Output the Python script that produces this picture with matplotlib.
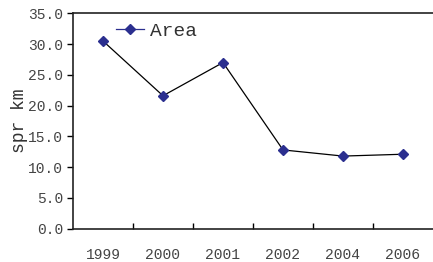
import matplotlib
matplotlib.use("Agg")
import matplotlib.pyplot as plt

years = ["1999", "2000", "2001", "2002", "2004", "2006"]
area = [30.5, 21.6, 27.0, 12.8, 11.8, 12.1]
yticks = [0, 5, 10, 15, 20, 25, 30, 35]

plt.rcParams['font.family'] = ['Liberation Mono', 'DejaVu Sans Mono']

fig = plt.figure(figsize=(4.33, 2.62), dpi=100)
ax = fig.add_axes([73/433, 1-228.7/262, 1-73/433, (228.7-13.3)/262])

x = list(range(len(years)))
ax.plot(x, area, color='black', lw=0.9, marker='D', markersize=5.5,
        markerfacecolor='#2b2f8f', markeredgecolor='#2b2f8f', label='Area')

ax.set_xlim(-0.5, len(years)-0.5)
ax.set_ylim(0, 35)
ax.set_yticks(yticks)
ax.set_yticklabels([f"{v:.1f}" for v in yticks], fontsize=10.5, color='#444444')
ax.set_xticks([i+0.5 for i in range(len(years)-1)])
ax.set_xticklabels([])
ax.set_xticks(x, minor=True)
ax.set_xticklabels(years, minor=True, fontsize=10.5, color='#444444')
ax.tick_params(axis='x', which='major', direction='in', length=4, width=1)
ax.tick_params(axis='x', which='minor', length=0, pad=14)
ax.tick_params(axis='y', direction='out', length=4, width=1, pad=3)

ax.spines['right'].set_visible(False)
for s in ['left', 'bottom', 'top']:
    ax.spines[s].set_linewidth(1.2)
    ax.spines[s].set_color('#222222')

ax.set_ylabel('spr km', fontsize=13, color='#333333', labelpad=0)

leg = ax.legend(loc='upper left', bbox_to_anchor=(0.086, 1.014), frameon=False,
                fontsize=14, handlelength=1.45, handletextpad=0.3,
                borderaxespad=0.2)
for t in leg.get_texts():
    t.set_color('#333333')
leg.get_lines()[0].set_color('#2b2f8f')

fig.savefig('out.png', dpi=100)
